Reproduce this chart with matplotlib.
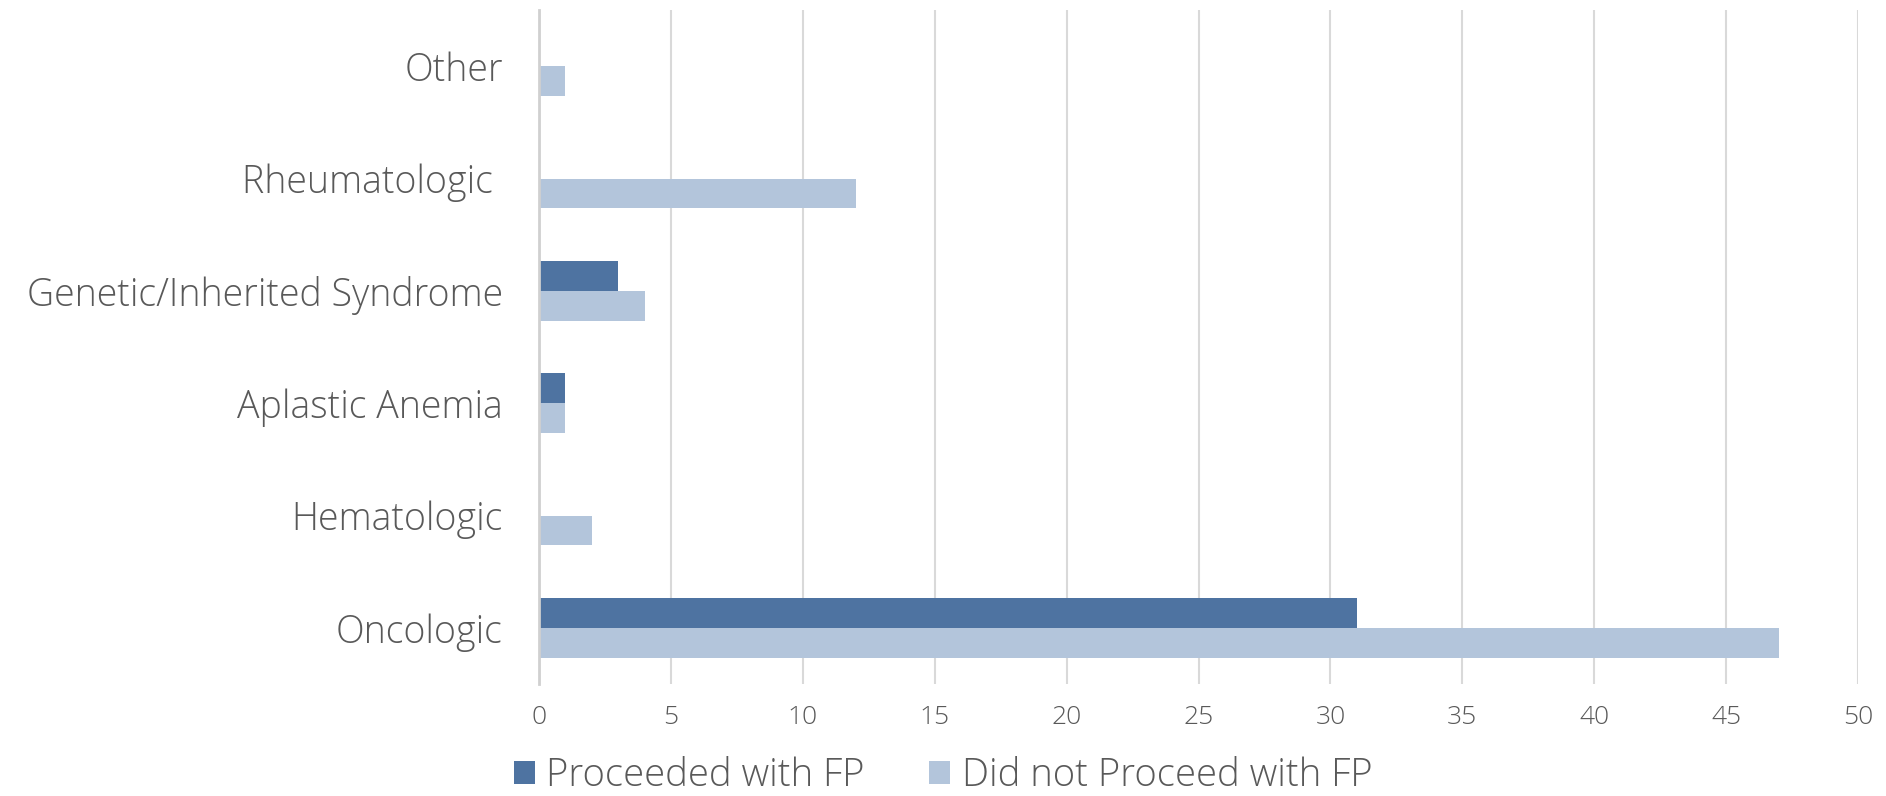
import matplotlib
matplotlib.use("Agg")
import matplotlib.pyplot as plt
import numpy as np

# 범주 (아래에서 위로)
categories = ["Oncologic", "Hematologic", "Aplastic Anemia",
              "Genetic/Inherited Syndrome", "Rheumatologic ", "Other"]
proceeded = [31, 0, 1, 3, 0, 0]
not_proceeded = [47, 2, 1, 4, 12, 1]
series_names = ["Proceeded with FP", "Did not Proceed with FP"]
x_ticks = [0, 5, 10, 15, 20, 25, 30, 35, 40, 45, 50]

plt.rcParams["font.family"] = ["Open Sans", "DejaVu Sans"]
plt.rcParams["font.weight"] = "light"

fig = plt.figure(figsize=(18.86, 7.96), dpi=100)
ax = fig.add_axes([539 / 1886, 1 - 684 / 796, (1858 - 539) / 1886, (684 - 10) / 796])

y = np.arange(len(categories))
h = 0.267
ax.barh(y + h / 2, proceeded, height=h, color="#4E73A1", label=series_names[0], zorder=3)
ax.barh(y - h / 2, not_proceeded, height=h, color="#B3C5DB", label=series_names[1], zorder=3)

ax.set_xlim(0, 50)
ax.set_ylim(-0.5, len(categories) - 0.5)
ax.set_xticks(x_ticks)
ax.set_yticks(y)
ax.set_yticklabels(categories)

ax.grid(axis="x", color="#D9D9D9", linewidth=1.5, zorder=0)
for s in ["top", "right", "bottom"]:
    ax.spines[s].set_visible(False)
ax.spines["left"].set_color("#D0D0D0")
ax.spines["left"].set_linewidth(2)
ax.spines["left"].set_zorder(4)

ax.tick_params(axis="both", length=0, colors="#595959")
ax.tick_params(axis="x", labelsize=19, pad=15)
ax.tick_params(axis="y", labelsize=27, pad=26)

fig.legend(loc="center", bbox_to_anchor=(0.5, 1 - 776 / 796), ncol=2, frameon=False,
           fontsize=27.5, labelcolor="#595959", handlelength=0.55, handleheight=0.55,
           columnspacing=1.7, handletextpad=0.3)

fig.savefig("out.png", dpi=100)
